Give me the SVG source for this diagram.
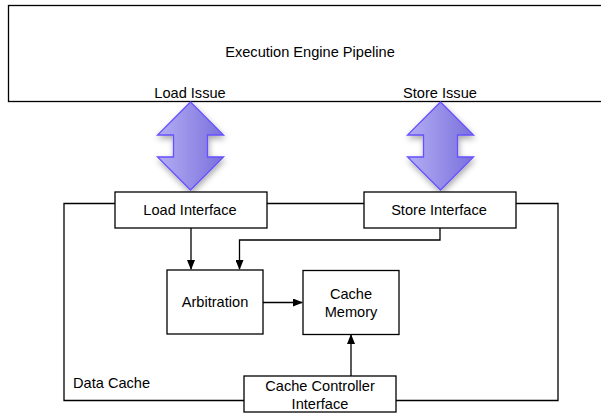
<svg xmlns="http://www.w3.org/2000/svg" width="601" height="413" viewBox="0 0 601 413">
<defs>
<linearGradient id="g" x1="0" y1="0" x2="1" y2="0">
<stop offset="0" stop-color="#b4aef3"/>
<stop offset="1" stop-color="#7a70dc"/>
</linearGradient>
<filter id="sh" x="-30%" y="-20%" width="160%" height="140%">
<feGaussianBlur in="SourceAlpha" stdDeviation="3"/>
<feOffset dx="1" dy="3"/>
<feComponentTransfer><feFuncA type="linear" slope="0.35"/></feComponentTransfer>
<feMerge><feMergeNode/><feMergeNode in="SourceGraphic"/></feMerge>
</filter>
<marker id="ah" markerWidth="10" markerHeight="8" refX="9" refY="4" orient="auto" markerUnits="userSpaceOnUse">
<path d="M0,0 L10,4 L0,8 Z" fill="#000"/>
</marker>
<path id="dbl" d="M0,0 L33,33 L17,33 L17,55 L33,55 L0,88 L-33,55 L-17,55 L-17,33 L-33,33 Z"/>
</defs>
<style>
.box{fill:#fff;stroke:#000;stroke-width:1.3}
.ln{fill:none;stroke:#000;stroke-width:1.3}
.t{font-family:"Liberation Sans",Arial,sans-serif;font-size:14.6px;fill:#000;text-anchor:middle}
.arr{fill:url(#g);stroke:#6650ff;stroke-width:1.3;stroke-linejoin:miter}
</style>
<g id="connectors">
<polyline class="ln" points="115,203.5 64,203.5 64,400.5 244,400.5"/>
<line class="ln" x1="267" y1="203.5" x2="364" y2="203.5"/>
<polyline class="ln" points="516,203.5 558,203.5 558,400.5 396,400.5"/>
<line class="ln" x1="191" y1="228" x2="191" y2="269" marker-end="url(#ah)"/>
<polyline class="ln" points="440,228 440,240 239.5,240 239.5,269" marker-end="url(#ah)"/>
<line class="ln" x1="263" y1="302.5" x2="302" y2="302.5" marker-end="url(#ah)"/>
<line class="ln" x1="351" y1="376" x2="351" y2="335" marker-end="url(#ah)"/>
</g>
<g id="pipeline">
<rect class="box" x="8.5" y="5.5" width="600" height="96"/>
<text class="t" x="310" y="57">Execution Engine Pipeline</text>
<text class="t" x="190" y="98">Load Issue</text>
<text class="t" x="440" y="98">Store Issue</text>
</g>
<g id="load-issue-arrow">
<use href="#dbl" class="arr" x="190.5" y="102" filter="url(#sh)"/>
</g>
<g id="store-issue-arrow">
<use href="#dbl" class="arr" x="440.5" y="102" filter="url(#sh)"/>
</g>
<g id="load-interface">
<rect class="box" x="115" y="192" width="152" height="36"/>
<text class="t" x="190" y="215">Load Interface</text>
</g>
<g id="store-interface">
<rect class="box" x="364" y="192" width="152" height="36"/>
<text class="t" x="439" y="215">Store Interface</text>
</g>
<g id="arbitration">
<rect class="box" x="167" y="270" width="96" height="64"/>
<text class="t" x="215" y="307">Arbitration</text>
</g>
<g id="cache-memory">
<rect class="box" x="303" y="270.5" width="96" height="64"/>
<text class="t" x="351" y="299">Cache</text>
<text class="t" x="351" y="317">Memory</text>
</g>
<g id="cache-controller">
<rect class="box" x="244" y="376" width="152" height="36"/>
<text class="t" x="320" y="391">Cache Controller</text>
<text class="t" x="320" y="409">Interface</text>
</g>
<g id="data-cache-label">
<text class="t" x="73" y="388" style="text-anchor:start">Data Cache</text>
</g>
</svg>
